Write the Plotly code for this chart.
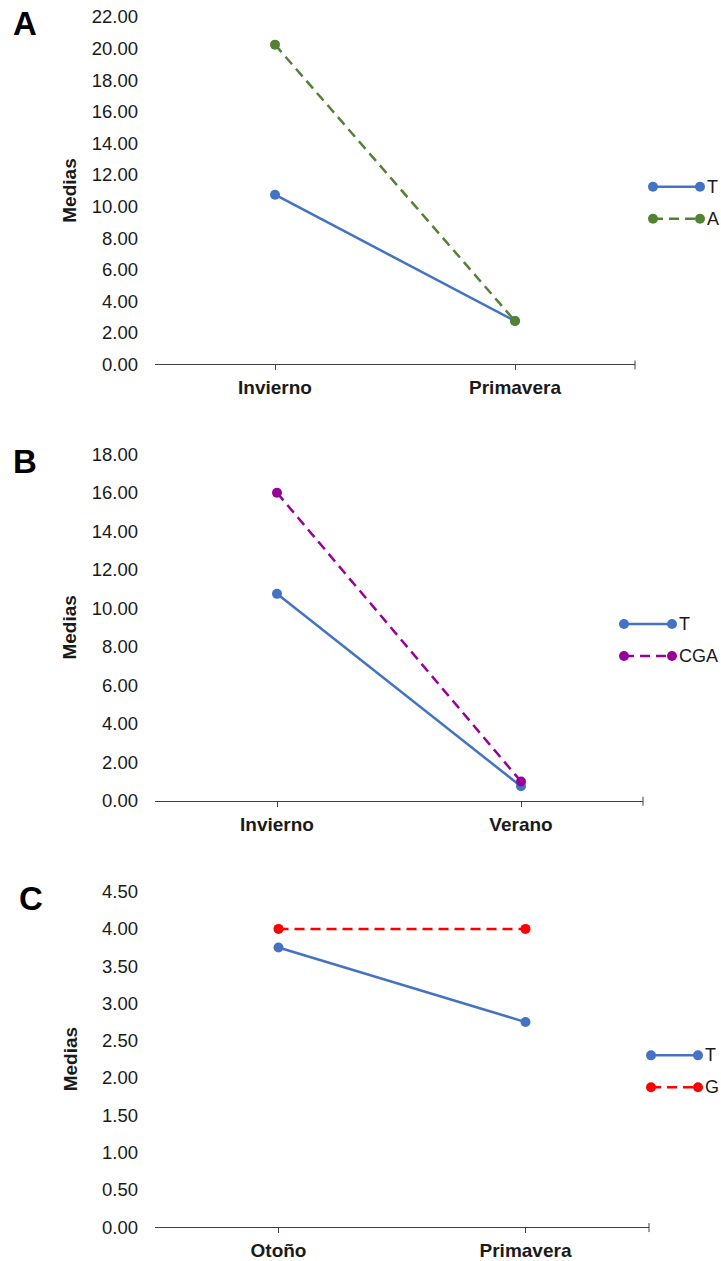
import plotly.graph_objects as go

W, H = 721, 1261
FONT = "Arial, 'Liberation Sans', sans-serif"
TXT = "#1a1a1a"
AXC = "#404040"

# ---------------- data ----------------
cats_a = ["Invierno", "Primavera"]
t_a = [10.75, 2.75]
a_a = [20.25, 2.75]

cats_b = ["Invierno", "Verano"]
t_b = [10.75, 0.75]
cga_b = [16.0, 1.0]

cats_c = ["Otoño", "Primavera"]
t_c = [3.75, 2.75]
g_c = [4.0, 4.0]

BLUE = "#4472C4"
GREEN = "#548235"
PURPLE = "#990099"
RED = "#FF0000"
DASH = "10px,6px"

panels = [
    dict(letter="A", cats=cats_a, series=[("T", t_a, BLUE, "solid"), ("A", a_a, GREEN, DASH)],
         ymax=22, dtick=2, box=(155, 635, 15, 363), letter_pos=(25, 22),
         leg_x=(653, 700), leg_y=(185, 217)),
    dict(letter="B", cats=cats_b, series=[("T", t_b, BLUE, "solid"), ("CGA", cga_b, PURPLE, DASH)],
         ymax=18, dtick=2, box=(155, 643, 453, 800), letter_pos=(25, 460),
         leg_x=(624, 672), leg_y=(623, 655)),
    dict(letter="C", cats=cats_c, series=[("T", t_c, BLUE, "solid"), ("G", g_c, RED, DASH)],
         ymax=4.5, dtick=0.5, box=(155, 649, 891, 1227), letter_pos=(31, 898),
         leg_x=(651, 698), leg_y=(1055, 1087)),
]

fig = go.Figure()
shapes = []
annotations = []

# the page is photographed with a small vertical offset/scale; compensate
VS, VO = 0.9841, 9.0


def px(x):
    return x / W


def py(y):
    return 1 - ((y - VO) / VS) / H


for i, p in enumerate(panels):
    n = "" if i == 0 else str(i + 1)
    l, r, t, b = p["box"]
    for name, vals, color, dash in p["series"]:
        fig.add_trace(go.Scatter(
            x=p["cats"], y=vals, mode="lines+markers", name=name,
            line=dict(color=color, width=2.5, dash=dash),
            marker=dict(size=10, color=color),
            xaxis="x" + n, yaxis="y" + n, showlegend=False,
        ))
    fig.layout["xaxis" + n] = dict(
        domain=[px(l), px(r)], anchor="y" + n, type="category", range=[-0.5, 1.5],
        showline=True, linecolor=AXC, linewidth=1, ticks="outside", ticklen=5,
        tickcolor=AXC, tickwidth=1, showgrid=False, zeroline=False,
        tickfont=dict(size=19, family=FONT, color=TXT, weight="bold"),
        ticklabelstandoff=1,
    )
    fig.layout["yaxis" + n] = dict(
        domain=[py(b), py(t)], anchor="x" + n, range=[0, p["ymax"]], dtick=p["dtick"],
        tickformat=".2f", showgrid=False, showline=False, zeroline=False, ticks="",
        tickfont=dict(size=18.5, family=FONT, color=TXT), ticklabelstandoff=16,
    )
    shapes.append(dict(type="line", xref="paper", yref="paper", x0=px(r), x1=px(r),
                       y0=py(b - 4), y1=py(b + 5), line=dict(color=AXC, width=1)))
    annotations.append(dict(text="<b>Medias</b>", x=px(70), y=py((t + b) / 2), xref="paper",
                            yref="paper", textangle=-90, showarrow=False,
                            xanchor="center", yanchor="middle",
                            font=dict(size=19, family=FONT, color=TXT)))
    lx, ly = p["letter_pos"]
    annotations.append(dict(text="<b>%s</b>" % p["letter"], x=px(lx), y=py(ly), xref="paper",
                            yref="paper", showarrow=False, xanchor="center", yanchor="middle",
                            font=dict(size=33, family=FONT, color="#000000")))
    x0, x1 = p["leg_x"]
    for (name, vals, color, dash), yy in zip(p["series"], p["leg_y"]):
        shapes.append(dict(type="line", xref="paper", yref="paper", x0=px(x0), x1=px(x1),
                           y0=py(yy), y1=py(yy), line=dict(color=color, width=2.5, dash=dash)))
        for cx in (x0, x1):
            shapes.append(dict(type="circle", xref="paper", yref="paper",
                               x0=px(cx - 5), x1=px(cx + 5), y0=py(yy + 5), y1=py(yy - 5),
                               fillcolor=color, line=dict(color=color, width=0)))
        annotations.append(dict(text=name, x=px(x1 + 5), y=py(yy), xref="paper", yref="paper",
                                xanchor="left", yanchor="middle", showarrow=False,
                                font=dict(size=18, family=FONT, color=TXT)))

fig.update_layout(
    width=W, height=H, margin=dict(l=0, r=0, t=0, b=0),
    paper_bgcolor="white", plot_bgcolor="white",
    shapes=shapes, annotations=annotations, showlegend=False,
    font=dict(family=FONT, size=18, color=TXT),
)

fig.write_html("out.html", config={"displayModeBar": False},
               post_script="document.body.style.margin='0';document.body.style.overflow='hidden';")
